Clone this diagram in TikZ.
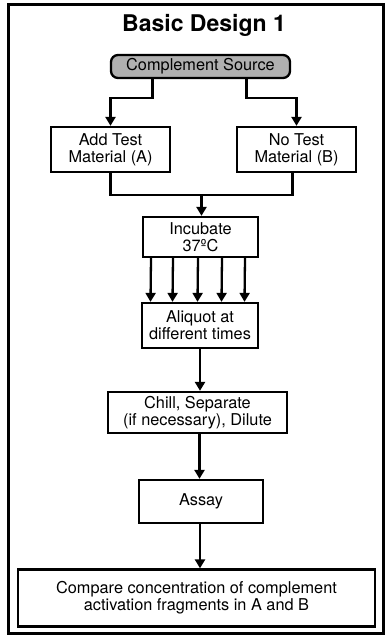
\documentclass[tikz,border=0pt]{standalone}
\usepackage{fontspec}
\setmainfont{TeX Gyre Heros}
\usetikzlibrary{arrows.meta}
\begin{document}
\begin{tikzpicture}[x=1pt,y=-1pt,
  every node/.style={font=\fontsize{16.3}{17}\selectfont, align=center, inner sep=0pt},
  stepbox/.style={draw, line width=2.3pt, fill=white},
  srcbox/.style={draw, line width=2.3pt, rounded corners=7pt, fill=gray!62},
  link/.style={line width=2.3pt},
  arr/.style={line width=2.3pt, -{Triangle[width=10pt,length=9pt]}}
]
\useasboundingbox (0,0) rectangle (386,635);
% outer frame
\draw[line width=3pt] (8,4) rectangle (383,633);

\node[font=\fontsize{23}{25}\selectfont\bfseries] (title) at (204,25) {Basic Design 1};

\node[srcbox, minimum width=179pt, minimum height=23pt] (src) at (200.5,66.5) {Complement Source};
\node[stepbox, minimum width=119pt, minimum height=45pt] (A) at (110.5,149.5) {Add Test\\Material (A)};
\node[stepbox, minimum width=119pt, minimum height=45pt] (B) at (296.5,149.5) {No Test\\Material (B)};
\node[stepbox, minimum width=115pt, minimum height=40pt] (inc) at (200.5,237) {Incubate\\37ºC};
\node[stepbox, minimum width=116pt, minimum height=45pt] (ali) at (200,325.5) {Aliquot at\\different times};
\node[stepbox, minimum width=179pt, minimum height=41pt] (chill) at (197.5,412.5) {Chill, Separate\\(if necessary), Dilute};
\node[stepbox, minimum width=124pt, minimum height=43pt] (assay) at (201,501.5) {Assay};
\node[stepbox, minimum width=357pt, minimum height=57pt] (cmp) at (196.5,598) {Compare concentration of complement\\activation fragments in A and B};

% split from the source
\draw[arr] ([xshift=-48pt]src.south) -- ++(0,19) -| (A.north);
\draw[arr] ([xshift=46pt]src.south) -- ++(0,19) -| (B.north);

% merge into the incubation step
\coordinate (join) at (201.5,195);
\draw[link] (A.south) |- (join) -| ([xshift=-4pt]B.south);
\draw[arr] (join) -- (join |- inc.north);

% aliquots
\foreach \dx in {-49.5,-27.5,-2.5,21.5,44.5}
  \draw[arr] ([xshift=\dx pt]inc.south) -- ([xshift=\dx pt]ali.north);

\draw[arr] (ali.south) -- (ali.south |- chill.north);
\draw[arr] ([xshift=-1.5pt]assay.north |- chill.south) -- ([xshift=-1.5pt]assay.north);
\draw[arr] ([xshift=-1pt]assay.south) -- ([xshift=-1pt]assay.south |- cmp.north);
\end{tikzpicture}
\end{document}
